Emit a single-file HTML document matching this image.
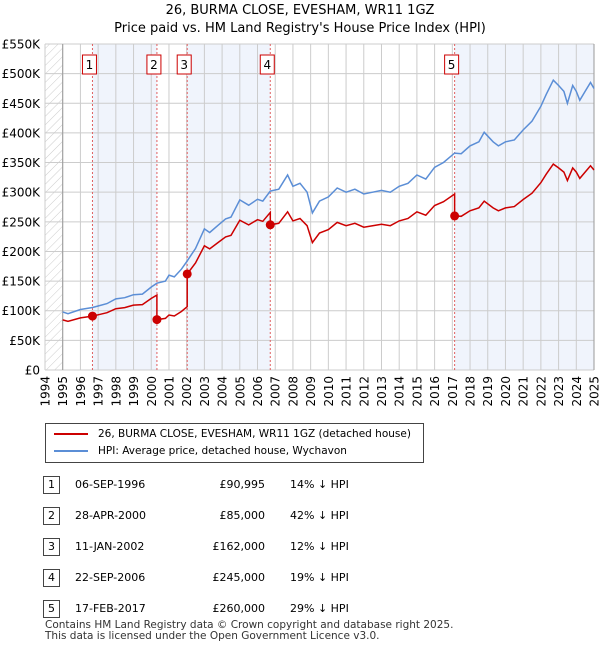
<!DOCTYPE html>
<html><head><meta charset="utf-8"><style>
body{margin:0;background:#fff;font-family:"DejaVu Sans","Liberation Sans",sans-serif;}
#wrap{position:relative;width:600px;height:650px;overflow:hidden;}
.t{position:absolute;font-size:12px;color:#000;}
svg text{font-family:"DejaVu Sans","Liberation Sans",sans-serif;}
</style></head><body>
<div id="wrap">
<div class="t" style="left:0;width:600px;top:2px;text-align:center;font-size:13px;line-height:18px;">26, BURMA CLOSE, EVESHAM, WR11 1GZ<br>Price paid vs. HM Land Registry's House Price Index (HPI)</div>
<svg id="chart" width="600" height="420" style="position:absolute;left:0;top:0"></svg>
<div style="position:absolute;left:45px;top:423px;width:377px;height:38px;border:1px solid #444;font-size:10.5px;white-space:nowrap;">
<div style="position:absolute;left:8px;top:4px;"><span style="display:inline-block;width:34px;height:2px;background:#cc0000;vertical-align:middle;margin-right:10px"></span>26, BURMA CLOSE, EVESHAM, WR11 1GZ (detached house)</div>
<div style="position:absolute;left:8px;top:21px;"><span style="display:inline-block;width:34px;height:2px;background:#5b8ed6;vertical-align:middle;margin-right:10px"></span>HPI: Average price, detached house, Wychavon</div>
</div>
<div id="table"></div>
<div class="t" style="left:45px;top:620px;font-size:10.5px;line-height:11px;color:#333;white-space:nowrap">Contains HM Land Registry data © Crown copyright and database right 2025.<br>This data is licensed under the Open Government Licence v3.0.</div>
</div>
<script>
const hpiYears=[1995,1995.3,1996,1996.68,1997,1997.5,1998,1998.5,1999,1999.5,2000,2000.32,2000.8,2001,2001.3,2001.7,2002.03,2002.5,2003,2003.3,2003.8,2004.2,2004.5,2005,2005.5,2006,2006.3,2006.72,2007.2,2007.7,2008,2008.4,2008.8,2009.1,2009.5,2010,2010.5,2011,2011.5,2012,2012.5,2013,2013.5,2014,2014.5,2015,2015.5,2016,2016.5,2017.13,2017.5,2018,2018.5,2018.8,2019.3,2019.6,2020,2020.5,2021,2021.5,2022,2022.3,2022.7,2023,2023.3,2023.5,2023.8,2024,2024.2,2024.5,2024.8,2025];
const hpiValues=[98000,95000,102000,105500,108000,112000,120000,122000,127000,128000,140000,146500,150000,160000,157000,170000,184000,205000,238000,232000,245000,255000,258000,287000,278000,288000,285000,302000,305000,329000,310000,315000,300000,265000,285000,292000,307000,300000,305000,297000,300000,303000,300000,310000,315000,329000,322000,342000,350000,366000,365000,378000,385000,401000,385000,378000,385000,388000,405000,420000,445000,465000,489000,480000,470000,450000,480000,470000,455000,470000,485000,475000];
const saleYears=[1996.68,2000.32,2002.03,2006.72,2017.13];
const salePrices=[90995,85000,162000,245000,260000];
const saleLabels=["1","2","3","4","5"];
const saleDates=["06-SEP-1996","28-APR-2000","11-JAN-2002","22-SEP-2006","17-FEB-2017"];
const saleDiffs=["14% ↓ HPI","42% ↓ HPI","12% ↓ HPI","19% ↓ HPI","29% ↓ HPI"];
const yTicks=[0,50000,100000,150000,200000,250000,300000,350000,400000,450000,500000,550000];
const yTickLabels=["£0","£50K","£100K","£150K","£200K","£250K","£300K","£350K","£400K","£450K","£500K","£550K"];
const xStart=1994,xEnd=2025;

const L=45,R=594,T=44,B=370,NS="http://www.w3.org/2000/svg";
const X=y=>L+(y-xStart)/(xEnd-xStart)*(R-L);
const Y=v=>B-v/550000*(B-T);
const svg=document.getElementById('chart');
function mk(t,a,p){const e=document.createElementNS(NS,t);for(const k in a)e.setAttribute(k,a[k]);(p||svg).appendChild(e);return e;}
function interp(x){for(let i=0;i<hpiYears.length-1;i++){if(x<=hpiYears[i+1]){const f=(x-hpiYears[i])/(hpiYears[i+1]-hpiYears[i]);return hpiValues[i]+f*(hpiValues[i+1]-hpiValues[i]);}}return hpiValues[hpiValues.length-1];}
const defs=mk('defs',{});
const pat=mk('pattern',{id:'hatch',width:6,height:6,patternUnits:'userSpaceOnUse',patternTransform:'rotate(45)'},defs);
mk('line',{x1:0,y1:0,x2:0,y2:6,stroke:'#ccc','stroke-width':1},pat);
const bands=[[0,1],[2,3],[4,null]];
bands.forEach(b=>{const x1=X(saleYears[b[0]]),x2=b[1]===null?R:X(saleYears[b[1]]);
const r=mk('rect',{x:x1,y:T,width:x2-x1,height:B-T,fill:'#f0f4fc'});
});
const h=mk('rect',{x:L,y:T,width:X(1995)-L,height:B-T,fill:'url(#hatch)'});

for(let yr=xStart;yr<=xEnd;yr++){mk('line',{x1:X(yr),x2:X(yr),y1:T,y2:B,stroke:'#ccc','stroke-width':1});
const tx=mk('text',{x:0,y:0,'font-size':12,'text-anchor':'end',transform:`translate(${X(yr)+4.5},${B+6}) rotate(-90)`});tx.textContent=yr;
}
yTicks.forEach((v,i)=>{mk('line',{x1:L,x2:R,y1:Y(v),y2:Y(v),stroke:'#ccc','stroke-width':1});
const tx=mk('text',{x:40,y:Y(v)+4.5,'font-size':12,'text-anchor':'end'});tx.textContent=yTickLabels[i];
});
mk('line',{x1:X(1995),x2:X(1995),y1:T,y2:B,stroke:'#999'});
mk('line',{x1:R,x2:R,y1:T,y2:B,stroke:'#999'});
saleYears.forEach((s,i)=>{mk('line',{x1:X(s),x2:X(s),y1:T,y2:B,stroke:'#e06060','stroke-dasharray':'2,2'});
const g=mk('g',{});
mk('rect',{x:X(s)-10,y:55,width:14,height:19,fill:'#fff',stroke:'#cc0000'},g);
const tx=mk('text',{x:X(s)-3,y:69,'font-size':12,'text-anchor':'middle'},g);tx.textContent=saleLabels[i];});
let d=hpiYears.map((y,i)=>(i?'L':'M')+X(y).toFixed(1)+','+Y(hpiValues[i]).toFixed(1)).join('');
const hp=mk('path',{d:d,fill:'none',stroke:'#5b8ed6','stroke-width':1.5});

let pd='';
for(let k=-1;k<saleYears.length;k++){const si=Math.max(k,0);const ratio=salePrices[si]/interp(saleYears[si]);
const a=k<0?1995:saleYears[k],b=k+1<saleYears.length?saleYears[k+1]:2025;
const pts=[a].concat(hpiYears.filter(y=>y>a&&y<b)).concat([b]);
pts.forEach((y,j)=>{pd+=(pd===''?'M':'L')+X(y).toFixed(1)+','+Y(interp(y)*ratio).toFixed(1);});}
const pp=mk('path',{d:pd,fill:'none',stroke:'#cc0000','stroke-width':1.5});

saleYears.forEach((s,i)=>{const c=mk('circle',{cx:X(s),cy:Y(salePrices[i]),r:4.5,fill:'#cc0000'});
});
const tb=document.getElementById('table');
saleYears.forEach((s,i)=>{const top=476+i*31;
const row=document.createElement('div');
row.style.cssText=`position:absolute;left:0;top:${top}px;width:600px;height:18px;font-size:11px;`;
row.innerHTML=`<div style="position:absolute;left:43px;top:0;width:15px;height:16px;border:1px solid #444;text-align:center;line-height:16px">${saleLabels[i]}</div>
<div style="position:absolute;left:75px;top:2px;width:90px">${saleDates[i]}</div>
<div style="position:absolute;left:180px;top:2px;width:85px;text-align:right">£${salePrices[i].toLocaleString('en-GB')}</div>
<div style="position:absolute;left:290px;top:2px">${saleDiffs[i]}</div>`;
tb.appendChild(row);});
</script>
</body></html>
